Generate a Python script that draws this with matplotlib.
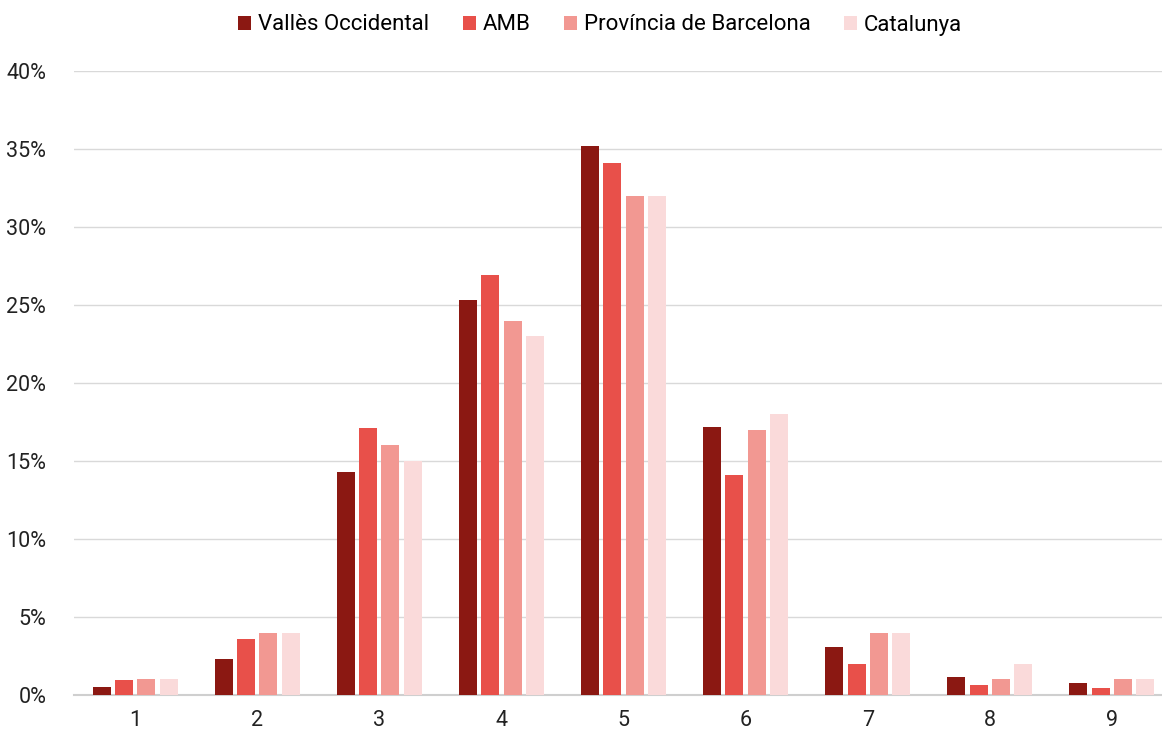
import matplotlib
matplotlib.use("Agg")
import matplotlib.pyplot as plt
import numpy as np
from matplotlib.ticker import FuncFormatter
from matplotlib.patches import Patch

categories = ["1", "2", "3", "4", "5", "6", "7", "8", "9"]
valles = [0.53, 2.3, 14.3, 25.3, 35.2, 17.2, 3.05, 1.15, 0.75]
amb = [0.94, 3.57, 17.1, 26.9, 34.1, 14.1, 2.0, 0.66, 0.47]
provincia = [1.0, 4.0, 16.0, 24.0, 32.0, 17.0, 4.0, 1.0, 1.0]
catalunya = [1.0, 4.0, 15.0, 23.0, 32.0, 18.0, 4.0, 2.0, 1.0]
series_names = ["Vallès Occidental", "AMB", "Província de Barcelona", "Catalunya"]
colors = ["#8B1812", "#E8504A", "#F29892", "#FADADA"]

plt.rcParams['font.family'] = ['Roboto', 'DejaVu Sans']

fig = plt.figure(figsize=(11.62, 7.33), dpi=100)
ax = fig.add_axes([74/1162, 38/733, (1162-74)/1162, (695-71)/733])

x = np.arange(len(categories))
width = 0.147
pitch = 0.183
data = [valles, amb, provincia, catalunya]
for i, (vals, name, c) in enumerate(zip(data, series_names, colors)):
    ax.bar(x + (i - 1.5) * pitch, np.array(vals) / 100, width=width, color=c, label=name, zorder=3)

ax.set_ylim(0, 0.40)
ax.set_xlim(-0.5, 8 + (1162 - 1112) / 122)
ax.set_yticks(np.arange(0, 0.401, 0.05))
ax.yaxis.set_major_formatter(FuncFormatter(lambda v, p: f"{int(round(v*100))}%"))
ax.set_xticks(x)
ax.set_xticklabels(categories)
ax.tick_params(axis='both', length=0, labelsize=15.5, colors="#222222")
ax.tick_params(axis='y', pad=20)
ax.tick_params(axis='x', pad=11)
ax.grid(axis='y', color="#d9d9d9", linewidth=1, zorder=0)
for s in ["top", "right", "left"]:
    ax.spines[s].set_visible(False)
ax.spines["bottom"].set_color("#cfcfcf")
ax.spines["bottom"].set_linewidth(1.5)

handles = [Patch(facecolor=c, label=n) for c, n in zip(colors, series_names)]
fig.legend(handles=handles, loc="center", bbox_to_anchor=(600/1162, 1 - 25/733), ncol=4,
           frameon=False, fontsize=16, handlelength=0.6, handleheight=0.6,
           handletextpad=0.3, columnspacing=1.5)

fig.savefig("out.png", dpi=100)
